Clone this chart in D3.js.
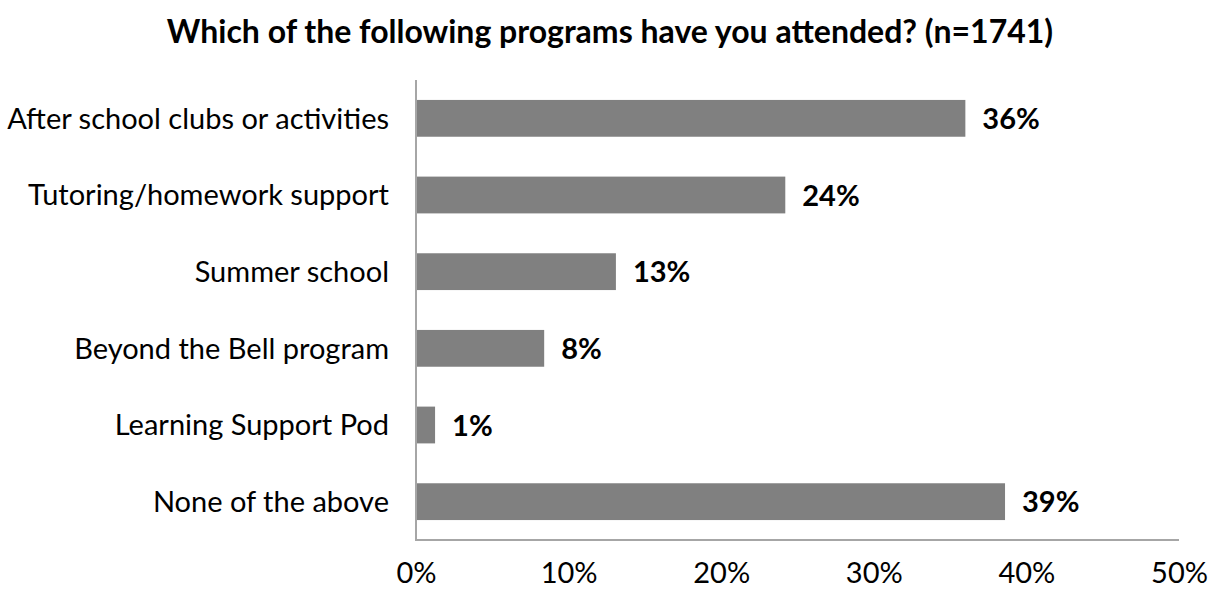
<!DOCTYPE html>
<html><head><meta charset="utf-8">
<script src="https://cdn.jsdelivr.net/npm/d3@7"></script>
<style>body{margin:0;background:#fff;} text{font-family:Lato,"Open Sans",sans-serif;}</style>
</head><body>
<svg id="c" width="1211" height="590"></svg>
<script>
const categories = ["After school clubs or activities","Tutoring/homework support","Summer school","Beyond the Bell program","Learning Support Pod","None of the above"];
const values = [0.36, 0.242, 0.131, 0.084, 0.0125, 0.386];
const labels = ["36%","24%","13%","8%","1%","39%"];
const ticks = [0, 0.1, 0.2, 0.3, 0.4, 0.5];
const title = "Which of the following programs have you attended? (n=1741)";

(function(){
const svg = d3.select("#c");
const mLeft = 416, mRight = 1179, mTop = 80, mBottom = 540;
const fs = 29;
const x = d3.scaleLinear().domain([0, 0.5]).range([mLeft, mRight]);
const y = d3.scaleBand().domain(categories).range([mTop, mBottom]).paddingInner(0.52).paddingOuter(0.26);

svg.append("text").attr("x", 610).attr("y", 43).attr("text-anchor","middle")
  .attr("font-size", 32).attr("font-weight","bold").attr("fill","#000").text(title);

svg.selectAll("rect.bar").data(values).join("rect").attr("class","bar")
  .attr("x", x(0)).attr("y", (d,i)=>y(categories[i]))
  .attr("width", d=>x(d)-x(0)).attr("height", y.bandwidth()).attr("fill","#808080");

svg.selectAll("text.val").data(values).join("text").attr("class","val")
  .attr("x", d=>x(d)+17).attr("y",(d,i)=>y(categories[i])+y.bandwidth()/2)
  .attr("dy","0.37em").attr("font-size",fs).attr("font-weight","bold").attr("fill","#000")
  .text((d,i)=>labels[i]);

const ya = svg.append("g").attr("transform",`translate(${mLeft},0)`)
  .call(d3.axisLeft(y).tickSize(0).tickPadding(27));
ya.select(".domain").remove();
ya.selectAll("text").attr("font-size",fs).attr("fill","#000").attr("dy","0.36em").style("font-family","Lato");

const xa = svg.append("g").attr("transform",`translate(0,${mBottom})`)
  .call(d3.axisBottom(x).tickValues(ticks).tickFormat(d3.format(".0%")).tickSize(0).tickPadding(22));
xa.select(".domain").remove();
xa.selectAll("text").attr("font-size",fs).attr("fill","#000").style("font-family","Lato");

svg.append("line").attr("x1",mLeft).attr("x2",mLeft).attr("y1",mTop).attr("y2",mBottom+1)
  .attr("stroke","#a6a6a6").attr("stroke-width",2);
svg.append("line").attr("x1",mLeft).attr("x2",mRight).attr("y1",mBottom).attr("y2",mBottom)
  .attr("stroke","#a6a6a6").attr("stroke-width",2);
})();
</script>
</body></html>
